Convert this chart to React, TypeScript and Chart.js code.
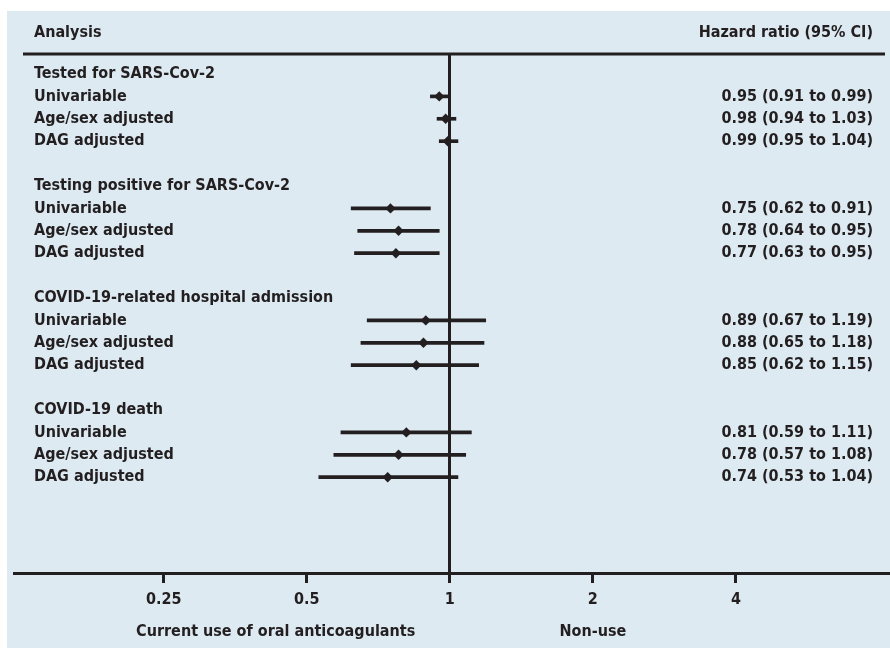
import { useEffect, useRef } from 'react';
import { Chart, registerables } from 'chart.js';

Chart.register(...registerables);

// ---------- data ----------
const groupTitles = [
  'Tested for SARS-Cov-2',
  'Testing positive for SARS-Cov-2',
  'COVID-19-related hospital admission',
  'COVID-19 death',
];
const modelNames = ['Univariable', 'Age/sex adjusted', 'DAG adjusted'];
const hazardRatios = [0.95, 0.98, 0.99, 0.75, 0.78, 0.77, 0.89, 0.88, 0.85, 0.81, 0.78, 0.74];
const lowerCI = [0.91, 0.94, 0.95, 0.62, 0.64, 0.63, 0.67, 0.65, 0.62, 0.59, 0.57, 0.53];
const upperCI = [0.99, 1.03, 1.04, 0.91, 0.95, 0.95, 1.19, 1.18, 1.15, 1.11, 1.08, 1.04];
const xTicks = [0.25, 0.5, 1, 2, 4];
const headerLeft = 'Analysis';
const headerRight = 'Hazard ratio (95% CI)';
const favoursLeft = 'Current use of oral anticoagulants';
const favoursRight = 'Non-use';

// ---------- style ----------
const INK = '#231f20';
const PANEL = '#ddeaf2';
const FONT = "'DejaVu Sans Condensed', 'Liberation Sans Narrow', 'Roboto Condensed', Roboto, sans-serif";

const rowOf = (k: number) => Math.floor(k / 3) * 5 + 1 + (k % 3);
const fmt = (v: number) => v.toFixed(2);

const forestDecor = {
  id: 'forestDecor',
  beforeDraw(chart: any) {
    const { ctx, width, height } = chart;
    ctx.save();
    ctx.fillStyle = '#ffffff';
    ctx.fillRect(0, 0, width, height);
    ctx.fillStyle = PANEL;
    ctx.fillRect(7, 11, width - 7, height - 11);
    ctx.restore();
  },
  afterDraw(chart: any) {
    const { ctx, chartArea } = chart;
    const xs = chart.scales.x;
    const ys = chart.scales.y;
    ctx.save();
    ctx.fillStyle = INK;
    ctx.font = `bold 16px ${FONT}`;
    ctx.textBaseline = 'middle';
    ctx.textAlign = 'left';
    ctx.fillText(headerLeft, 34, 33);
    ctx.textAlign = 'right';
    ctx.fillText(headerRight, 873, 33);

    ctx.strokeStyle = INK;
    ctx.lineWidth = 3;
    ctx.beginPath();
    ctx.moveTo(23, chartArea.top - 1);
    ctx.lineTo(885, chartArea.top - 1);
    ctx.stroke();

    groupTitles.forEach((g, gi) => {
      ctx.textAlign = 'left';
      ctx.fillText(g, 34, ys.getPixelForValue(gi * 5));
    });
    hazardRatios.forEach((hr, k) => {
      const py = ys.getPixelForValue(rowOf(k));
      ctx.textAlign = 'left';
      ctx.fillText(modelNames[k % 3], 34, py);
      ctx.textAlign = 'right';
      ctx.fillText(`${fmt(hr)} (${fmt(lowerCI[k])} to ${fmt(upperCI[k])})`, 873, py);
    });

    ctx.textAlign = 'center';
    ctx.fillText(favoursLeft, xs.getPixelForValue(0.43), 632);
    ctx.fillText(favoursRight, xs.getPixelForValue(2), 632);
    ctx.restore();
  },
};

export default function App() {
  const ref = useRef<HTMLCanvasElement | null>(null);

  useEffect(() => {
    document.body.style.margin = '0';
    const canvas = ref.current;
    if (!canvas) return;
    const chart = new Chart(canvas, {
      type: 'bar',
      data: {
        datasets: [
          {
            type: 'bar',
            label: 'CI',
            indexAxis: 'y',
            data: hazardRatios.map((_, k) => ({ x: [lowerCI[k], upperCI[k]], y: rowOf(k) })),
            backgroundColor: INK,
            borderWidth: 0,
            barThickness: 3,
          } as any,
          {
            type: 'scatter',
            label: 'HR',
            data: hazardRatios.map((hr, k) => ({ x: hr, y: rowOf(k) })),
            pointStyle: 'rectRot',
            pointRadius: 5.2,
            backgroundColor: INK,
            borderWidth: 0,
          } as any,
        ],
      },
      options: {
        indexAxis: 'y',
        animation: false,
        responsive: false,
        devicePixelRatio: 1,
        layout: { autoPadding: false, padding: { top: 55, left: 14, right: 0, bottom: 0 } },
        plugins: { legend: { display: false }, tooltip: { enabled: false } },
        scales: {
          x: {
            type: 'logarithmic',
            position: 'bottom',
            offset: false,
            min: 0.121,
            max: 8.44,
            afterBuildTicks: (s: any) => {
              s.ticks = xTicks.map((v) => ({ value: v }));
            },
            afterFit: (s: any) => {
              s.height = 75;
              s.paddingLeft = 0;
              s.paddingRight = 0;
            },
            ticks: {
              color: INK,
              autoSkip: false,
              maxRotation: 0,
              padding: 7,
              font: { family: FONT, size: 16, weight: 'bold' },
              callback: (v: any) => String(v),
            },
            grid: {
              offset: false,
              color: (c: any) => (c.tick && c.tick.value === 1 ? INK : 'rgba(0,0,0,0)'),
              lineWidth: 3,
              tickColor: INK,
              tickLength: 10,
              tickWidth: 3,
            },
            border: { display: true, color: INK, width: 3 },
          },
          y: {
            type: 'linear',
            offset: false,
            grace: 0,
            bounds: 'data',
            min: -0.848,
            max: 22.277,
            reverse: true,
            display: false,
            grid: { offset: false },
          },
        },
      } as any,
      plugins: [forestDecor],
    });
    return () => chart.destroy();
  }, []);

  return (
    <div style={{ position: 'absolute', left: 0, top: 0, width: 890, height: 648 }}>
      <canvas ref={ref} width={890} height={648} style={{ width: 890, height: 648 }} />
    </div>
  );
}
